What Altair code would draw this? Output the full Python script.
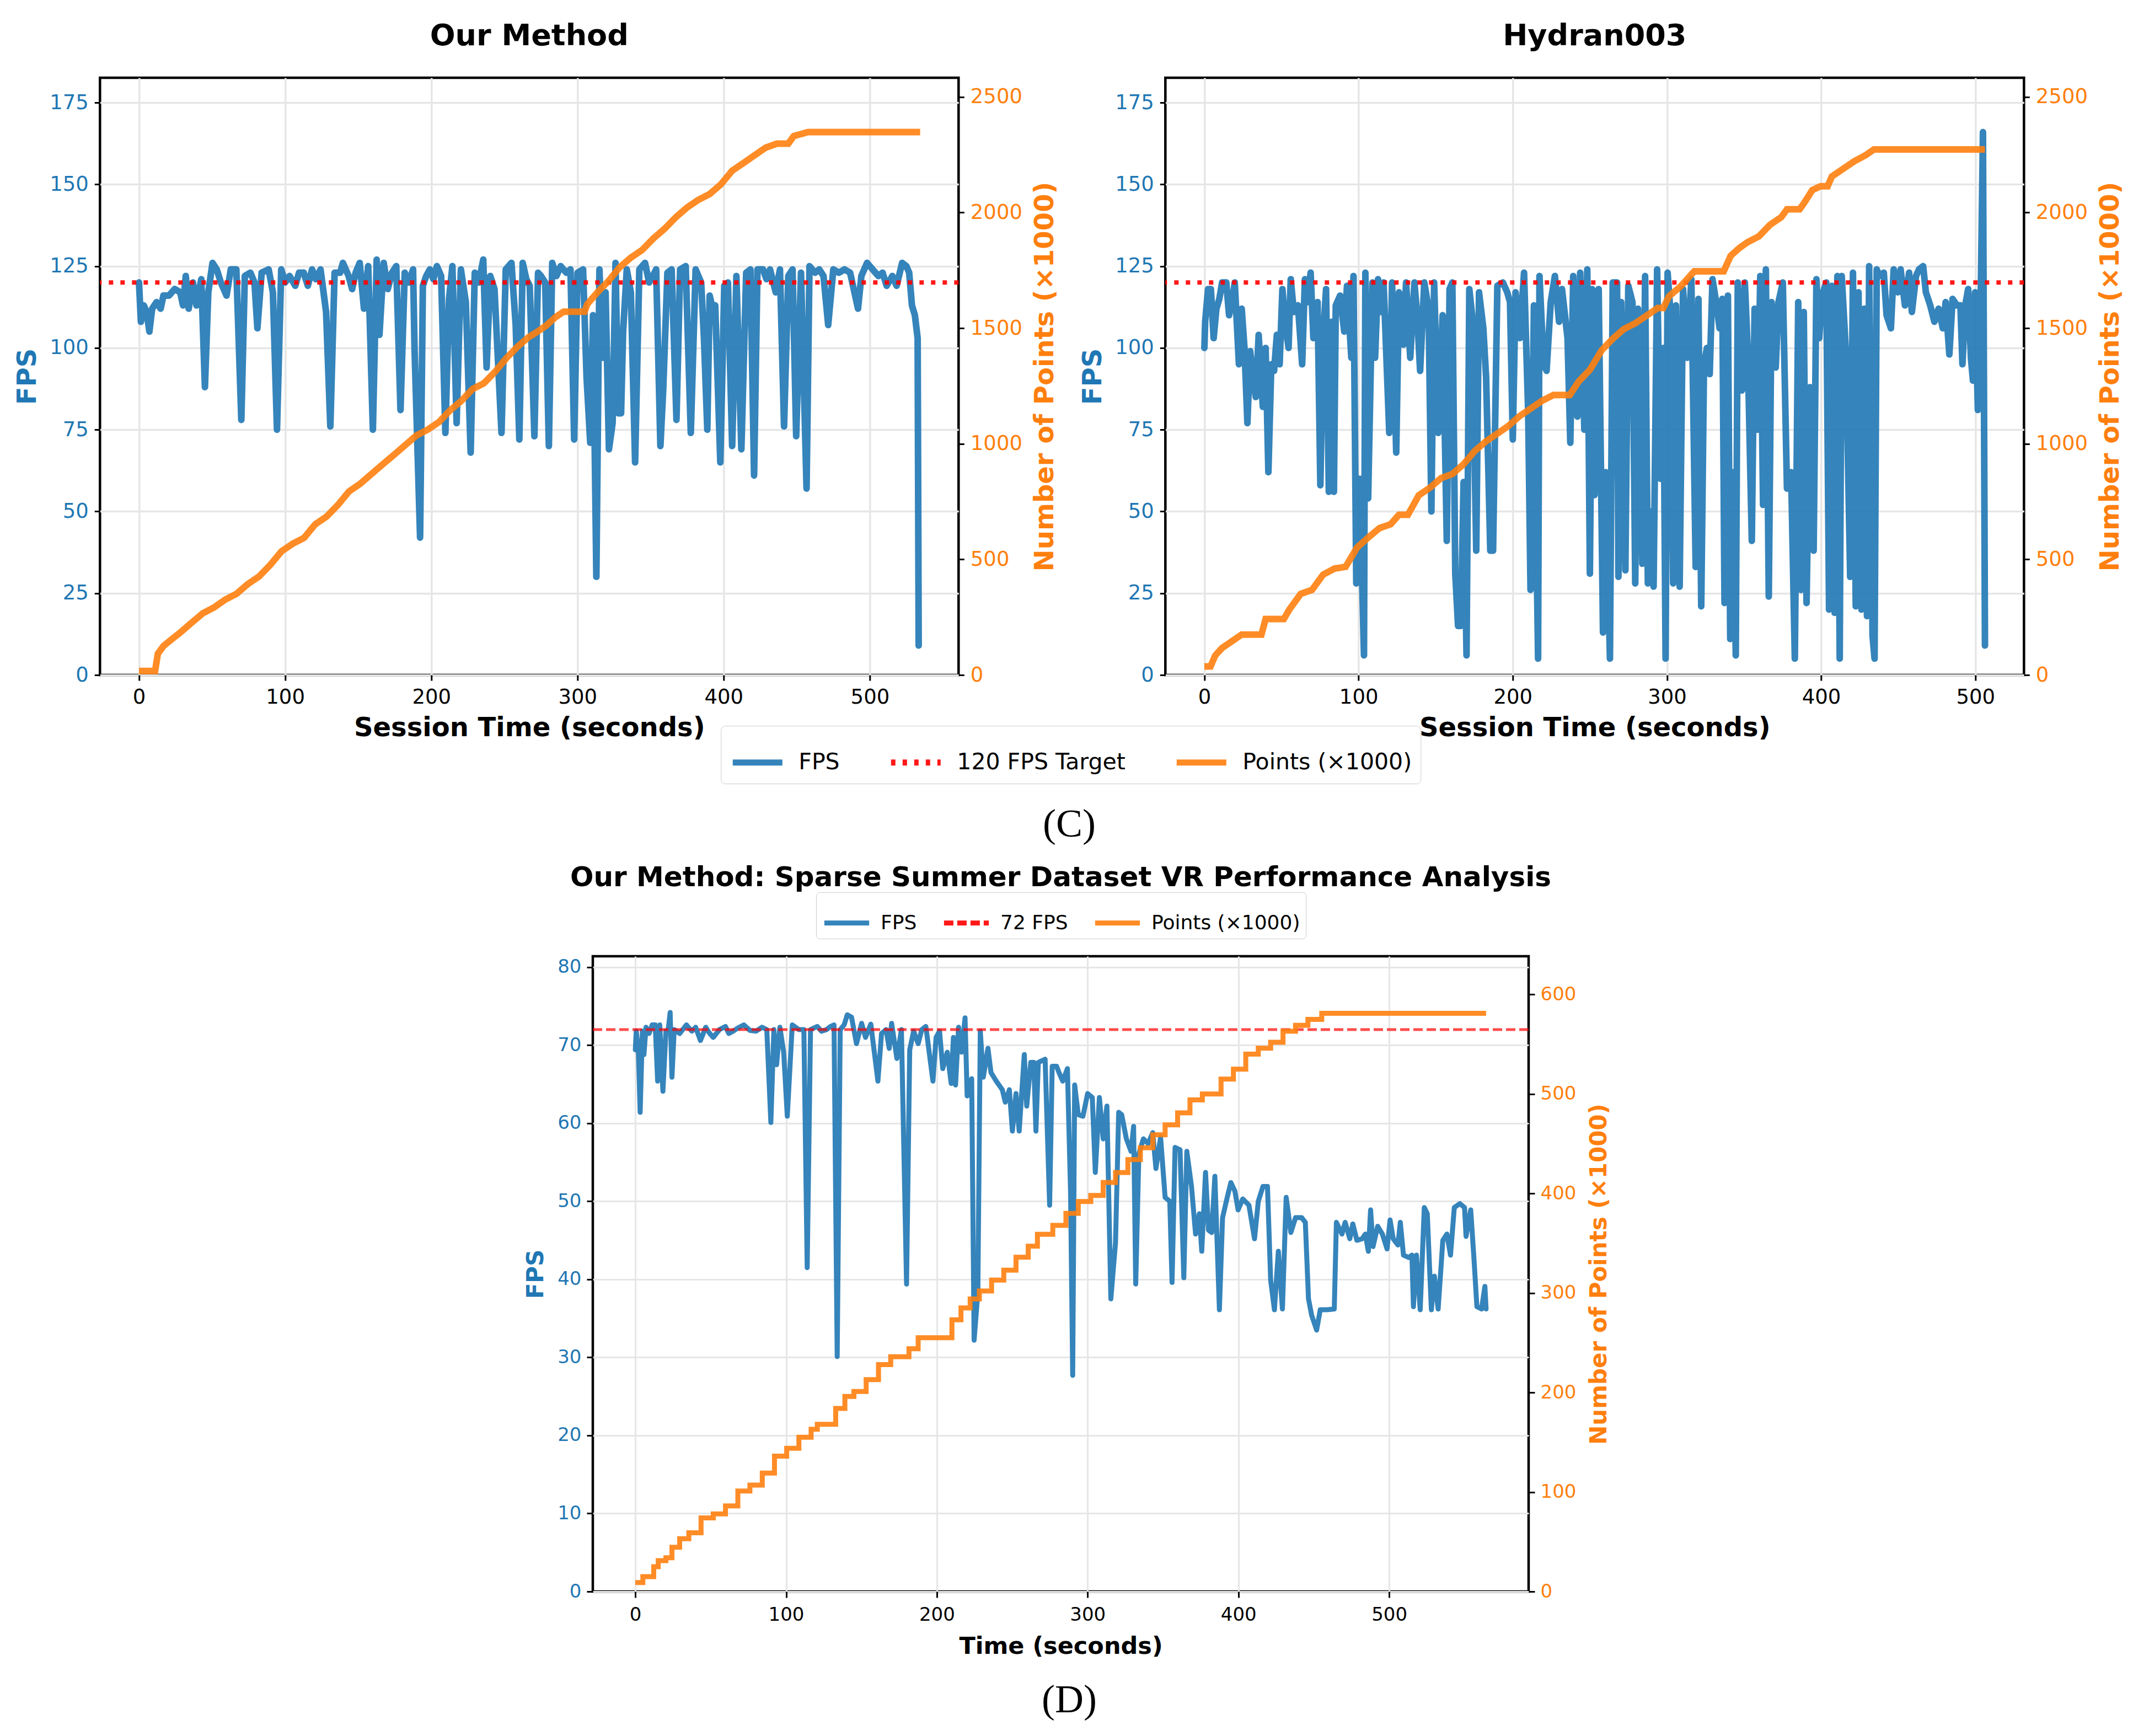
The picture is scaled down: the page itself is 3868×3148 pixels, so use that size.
import altair as alt
import pandas as pd

FONT = "DejaVu Sans"
SERIF = "Liberation Serif"
BLUE = "#1f77b4"
ORANGE = "#ff7f0e"
RED = "#ff0000"
GRID = "#e6e6e6"

# ---------------- data: panel (C) left "Our Method" ----------------
A_T = [0, 1.3, 3.3, 5.2, 7.1, 9, 12, 14.8, 16.7, 20.5, 24.4, 28.2, 30.1, 32, 34, 36.9, 39.3, 42.6, 45.1, 47.4,
       50.3, 53.2, 56, 59.9, 62.8, 66.6, 70, 72.4, 76.2, 79, 81, 83.9, 88.7, 91.6, 94.4, 97.3, 100, 103, 106.9,
       109.5, 112.7, 115.5, 118.4, 121, 124.2, 128, 130.9, 133.8, 137.6, 139.5, 143.4, 145.8, 148.2, 151, 153.9,
       156.8, 160, 162.6, 164.5, 167.4, 170.2, 173.1, 176, 178.9, 181.8, 184.6, 187.5, 188.5, 192.3, 194.2, 196.5,
       199, 201.4, 203.8, 206.7, 209.6, 212.1, 214.4, 217.3, 220.2, 223.6, 226.9, 229.7, 232.5, 235.5, 237.8,
       240.3, 243.2, 248, 250.9, 254.8, 257.7, 260.2, 262.5, 265, 267.3, 270.5, 273, 275, 277.9, 280.4, 282.7,
       285.6, 288.5, 292.3, 295.2, 297.7, 300, 303.8, 306.2, 308.7, 310.6, 312.9, 315, 317.3, 319.2, 321.5, 324,
       326, 327.9, 329.8, 331.2, 333.7, 336.5, 339.4, 342.3, 346.2, 349, 351.5, 353.8, 356.7, 358.6, 361.5,
       364.4, 367.7, 370.2, 374, 377.5, 380.8, 384.6, 386.5, 388.8, 390.4, 392.5, 394.2, 397.7, 400.4, 402.9,
       405.8, 408.7, 412.1, 415.4, 418.3, 420.8, 423.1, 426.9, 429.3, 431.7, 435.6, 438.5, 441.3, 444.2, 447.1,
       449.6, 452.9, 456.7, 458.7, 462.5, 465.4, 468.3, 471.5, 475, 478.8, 482.7, 486.5, 491.9, 494.2, 498.1,
       501.9, 505.8, 508.7, 511.5, 515.4, 518.3, 522.1, 525, 526.9, 528.8, 530.8, 532.7, 533.4]
A_FPS = [120, 108, 113, 111, 105, 112, 114, 112, 116, 116, 118, 117, 113, 122, 112, 120, 113, 121, 88, 117,
         126, 124, 120, 116, 124, 124, 78, 122, 123, 120, 106, 123, 124, 117, 75, 124, 120, 122, 119,
         123, 123, 119, 124, 121, 124, 111, 76, 123, 123, 126, 122, 118, 123, 126, 112,
         125, 75, 127, 104, 126, 118, 123, 125, 81, 123, 120, 124, 100, 42, 119, 122,
         124, 121, 125, 122, 74, 115, 125, 77, 124, 114, 68, 123, 120, 127, 94,
         122, 118, 74, 124, 126, 107, 72, 126, 121, 119, 73, 123, 122, 120, 70, 126,
         122, 125, 123, 124, 72, 123, 124, 91, 71, 110, 30, 124, 97, 117, 69, 77,
         126, 80, 80, 105, 124, 117, 65, 124, 126, 120, 122, 124, 70, 87, 123,
         124, 78, 124, 125, 74, 124, 120, 103, 75, 116, 112, 113, 65, 119, 120,
         70, 122, 69, 123, 124, 61, 124, 124, 121, 124, 117, 124, 76, 122, 124,
         73, 123, 57, 125, 123, 124, 122, 107, 124, 123, 124, 123, 112, 122, 126,
         124, 122, 123, 119, 122, 119, 126, 125, 123, 113, 110, 103, 9]
A_PT_T = [0, 11, 12.9, 16.7, 21.5, 28.3, 36, 43.7, 51.3, 59, 66.7, 74.4, 82.1, 89.8, 97.5, 105.2, 112.9, 120.6,
          128.3, 136, 143.7, 151.3, 159, 166.7, 174.4, 182.1, 189.8, 197.5, 205.2, 212.9, 220.6, 228.3, 236,
          243.7, 251.3, 259, 266.7, 271.2, 278.8, 284.6, 290.4, 304.8, 306.7, 313.5, 321.2, 328.8, 336.5, 344.2,
          351.9, 359.6, 367.3, 375, 382.7, 390.4, 398.1, 405.8, 413.5, 421.2, 428.8, 436.5, 444.2, 448, 457.7,
          534.4]
A_PTS = [17, 17, 92, 125, 150, 184, 226, 267, 292, 326, 351, 393, 426, 476, 535, 568, 593, 652,
         685, 735, 794, 827, 869, 911, 952, 994, 1036, 1061, 1094, 1145, 1186, 1237, 1262,
         1312, 1370, 1420, 1462, 1479, 1512, 1546, 1571, 1571, 1604, 1654, 1704, 1763, 1805, 1838,
         1888, 1930, 1980, 2022, 2055, 2080, 2122, 2181, 2214, 2248, 2281, 2298, 2298, 2331, 2348,
         2348]

# ---------------- data: panel (C) right "Hydran003" ----------------
B_T = [0, 0.5, 2.4, 4.2, 6, 7.8, 9.7, 11.5, 14.2, 16, 17.9, 19.7, 22.4, 24.2, 26, 27.9, 29.7, 31.5, 33.3, 35.2,
       37.9, 39.7, 41.5, 43.4, 45.2, 47, 48.8, 50.6, 52.5, 54.6, 56, 58, 60.7, 63.4, 65.2, 67, 68.9, 70.7, 73.4,
       75.2, 77, 78.9, 80.7, 82.5, 84, 85.2, 88, 90.7, 92.5, 95.3, 96.7, 98.5, 100.7, 103.5, 104.4, 106.2, 109,
       110.7, 112.6, 114.4, 116.2, 119.9, 121.7, 124.4, 126.2, 129, 130.8, 133.5, 136.2, 138, 139.9, 142.6,
       145.4, 147.2, 149, 151.7, 154.5, 157.2, 159, 160.8, 162.7, 164.5, 166.3, 168.1, 170, 171.8, 173.6,
       176.3, 178.1, 180.9, 182.7, 185.4, 187.2, 190, 193.6, 196.4, 198.2, 200, 201.8, 204.5, 207.3, 210,
       211.5, 213.7, 215.5, 216.4, 217.3, 220, 221.9, 224.6, 227.3, 230, 231.9, 235.5, 237.3, 239.2, 241.9,
       243.7, 246.4, 248.3, 250, 251.5, 253, 255.7, 258.5, 260.3, 263, 264.8, 267.6, 268.5, 270.3, 273, 274.9,
       277.6, 279.4, 281.2, 284, 285.8, 287.6, 289.4, 291.3, 293.6, 295.8, 297.6, 299.1, 300.4, 302.2, 304,
       305.8, 308.2, 310.4, 313.1, 315.8, 318.6, 320.4, 322.2, 324, 325.9, 327.7, 329.5, 332.2, 334.1, 335.9,
       337.3, 339.5, 341, 342.8, 344.6, 345.9, 348.6, 350.5, 352.3, 355, 356.8, 358.7, 360.5, 362.3, 364.1,
       366, 367.8, 370.5, 372.3, 375.1, 377.8, 380.5, 382.9, 385.1, 386.9, 388.7, 390.5, 392.7, 395.1, 396.9,
       398.7, 400.5, 403.3, 405.1, 406.9, 408.7, 410.5, 412, 413.3, 416, 418.8, 420.6, 422.4, 424.2, 426.1,
       427.9, 429.7, 431.1, 433.3, 434.6, 436, 437.9, 440.6, 442.4, 445.2, 447, 449.7, 451.5, 454.3, 457,
       458.8, 461.5, 463.4, 466.1, 467.9, 470.7, 473.4, 476.1, 478.9, 480.7, 483.1, 485.2, 488, 490.3, 491.6,
       493.4, 495.3, 497.1, 498.4, 499.8, 501.6, 503.5, 504.9, 506.2]
B_FPS = [100, 108, 118, 118, 103, 112, 115, 120, 120, 110, 114, 120, 95, 112, 100, 77, 99, 91, 85, 104,
         82, 100, 62, 95, 93, 104, 95, 118, 107, 100, 121, 111, 113, 95, 121, 114, 123, 103, 114,
         58, 103, 118, 56, 108, 56, 113, 116, 105, 119, 97, 122, 28, 60, 6, 123, 54, 120,
         97, 121, 111, 120, 74, 120, 68, 117, 101, 120, 97, 120, 110, 93, 120,
         112, 50, 120, 74, 110, 41, 118, 120, 31, 15, 15, 59, 6, 118, 110,
         38, 117, 106, 91, 38, 38, 119, 120, 117, 114, 72, 117, 103, 123, 80,
         26, 113, 35, 5, 122, 95, 93, 114, 122, 108, 118, 103, 71, 122, 79,
         123, 75, 124, 31, 118, 55, 118, 13, 62, 5, 120, 120, 30, 114, 32, 119,
         114, 28, 112, 34, 122, 28, 50, 27, 124, 60, 100, 5, 123, 111, 28,
         113, 27, 118, 97, 121, 33, 115, 21, 95, 100, 92, 121, 113, 106, 115,
         22, 116, 11, 62, 6, 120, 87, 120, 100, 41, 112, 75, 122, 52, 124,
         24, 114, 94, 114, 120, 57, 62, 5, 114, 26, 111, 22, 88, 38, 121,
         103, 116, 120, 20, 119, 19, 122, 5, 122, 99, 30, 123, 21, 117, 20,
         112, 18, 125, 12, 5, 124, 122, 123, 110, 106, 124, 117, 124, 113, 123,
         111, 122, 124, 125, 117, 113, 108, 112, 106, 114, 98, 115, 113, 113, 95,
         113, 118, 97, 90, 117, 81, 117, 166, 9]
B_PT_T = [0, 4, 7, 11.5, 17, 24.2, 37, 39.7, 51.5, 55.2, 62.5, 69.8, 77, 84.3, 91.6, 99, 106, 113.5, 120.8,
          126.2, 132, 139, 146.3, 153.6, 160.8, 168, 175.4, 182.7, 190, 197.3, 204.5, 211.8, 219, 226.4, 237,
          242.8, 250, 257.6, 264.8, 272, 279.4, 286.7, 294, 297.6, 301.3, 308.6, 317.7, 336.8, 341.3, 346.8,
          352.3, 359.6, 366.8, 374.1, 377.8, 386, 388.7, 394.2, 399.6, 404.2, 406.9, 414.2, 421.5, 428.8,
          434.2, 506.2]
B_PTS = [37, 37, 84, 117, 142, 175, 175, 242, 242, 284, 351, 368, 434, 460, 468, 551, 593, 635, 652,
         693, 693, 777, 810, 852, 869, 911, 969, 1011, 1044, 1078, 1120, 1153, 1186, 1211, 1211,
         1270, 1320, 1404, 1454, 1496, 1521, 1554, 1587, 1587, 1638, 1679, 1746, 1746, 1813, 1846,
         1872, 1897, 1947, 1980, 2014, 2014, 2039, 2097, 2114, 2114, 2156, 2189, 2222, 2248,
         2273, 2273]

# ---------------- data: panel (D) "Sparse Summer Dataset" ----------------
D_T = [0, 0.6, 2, 3.2, 4.7, 5.7, 7.1, 9.1, 11.2, 13.2, 14.8, 16.2, 18.3, 20.3, 21.7, 23.1, 24.3, 25.8, 29.4,
       33.9, 37.5, 40, 43.2, 46.7, 49, 51.7, 55.8, 59.8, 62, 64.9, 68, 72, 76, 80.1, 84, 87.2, 89.9, 91.9,
       93.7, 95.9, 98.4, 100.8, 104.1, 108.5, 111.8, 114, 116.2, 120.7, 123.5, 126.8, 129.5, 131.8, 133.9,
       135.9, 138.5, 140.6, 143.4, 146.7, 150.1, 152.7, 156.2, 160.9, 163.3, 166.3, 168.4, 170, 173.5, 176.5,
       179.9, 182, 184.6, 187.6, 190, 192.7, 197.4, 199.5, 201.8, 203.9, 206.9, 209.5, 211, 212.4, 214.4,
       216.4, 218.7, 220.1, 223.1, 224.7, 227.2, 228.8, 230.8, 233.9, 235.9, 239.4, 243.4, 245.4, 248.1,
       250.1, 252.5, 254.6, 258, 259.6, 262.3, 264.3, 265.7, 267.3, 271.8, 274.8, 276.5, 279.4, 281, 283.5,
       286.6, 288.7, 290.1, 291.4, 293.8, 296.9, 300, 303.1, 305.1, 307.8, 310.3, 312.8, 315.4, 318.5, 320.6,
       322.6, 325.7, 328.8, 330.5, 331.9, 334, 337, 340.1, 343.2, 345.3, 348.4, 351.4, 354.5, 356, 358,
       361.3, 363.8, 365.8, 368.9, 371.6, 374.1, 375.7, 378.2, 380.2, 382.3, 384.4, 387.4, 389.5, 392.6, 395,
       397.7, 399.8, 402.9, 407, 410.7, 413.2, 416.3, 419.3, 421.4, 423.9, 426.5, 429.2, 431.7, 434.8, 437.9,
       442, 444.4, 446.5, 448.6, 451.9, 454.3, 458.4, 463.6, 465, 468.7, 470.8, 473.9, 475.9, 478.6, 482.1,
       484.2, 486.2, 487.7, 489.3, 492.4, 495.5, 498.6, 500.6, 502.7, 505.8, 507.4, 509.5, 513, 515.1, 516.1,
       518.1, 520.6, 523.3, 525.3, 528, 530, 532.5, 535.6, 538.3, 540.7, 543.2, 546.9, 550, 551, 554.1, 556.2,
       558.2, 561.3, 563.5, 564.3]
D_FPS = [69.4, 71.8, 69.4, 61.4, 71.8, 68.8, 72.3, 71.5, 72.6, 72.6, 65.4, 72.6, 64.1, 71.8, 71.8, 74.2, 65.9, 72, 71.5,
         72.6, 71.8, 72.3, 70.6, 72.3, 71.6, 71, 72, 72.4, 71.5, 71.8, 72.2, 72.6, 71.9, 71.8, 72.3, 72, 60.1, 72,
         67.5, 72.3, 69.1, 60.9, 72.6, 72, 72, 41.5, 72, 72.4, 71.8, 72, 72.4, 72.6, 30.1,
         72, 72.6, 73.9, 73.6, 70.2, 72.8, 71, 72.7, 65.4, 71.5, 72, 69.6, 72.8, 68.3, 72,
         39.4, 69.4, 71.8, 70.2, 72, 72.4, 65.4, 71, 71.8, 67, 69.1, 65.1, 71, 64.9, 72.3,
         69.1, 73.5, 63.5, 65.7, 32.2, 38.3, 71.8, 65.9, 69.6, 66.5, 65.4, 64.3, 62.7, 64.3,
         59, 63.8, 59, 68.8, 62.2, 67.8, 67.8, 59, 67.8, 68.2, 49.5, 67.3, 67.3, 66.5, 65.4,
         67, 51, 27.7, 64.9, 61.1, 60.9, 63.8, 63.3, 53.7, 63.3, 58, 62.2, 37.5, 44.7, 61.4,
         61.1, 58, 56.4, 59.6, 39.4, 56.1, 58, 57.4, 58.8, 54.2, 58.2, 50.5, 50, 39.6, 56.9,
         56.6, 40.2, 56.4, 51.9, 45.8, 48.4, 43.6, 53.7, 46.3, 46, 53.2, 36.1, 47.9, 50.5, 52.4,
         51.3, 48.9, 50.3, 49.5, 45.2, 50, 51.9, 51.9, 39.9, 36.1, 43.6, 36.2, 50.5, 46, 47.9,
         47.9, 47.3, 37.5, 35.4, 33.5, 36.1, 36.1, 36.2, 47.3, 45.8, 47.3, 45.2, 47.1, 45, 45.2,
         45.8, 43.6, 48.9, 44.2, 46.8, 45.8, 43.9, 47.6, 45.2, 44.4, 47.3, 43.1, 42.8, 43.1, 36.5,
         43.1, 36.1, 49.2, 48.4, 36.1, 40.4, 36.2, 45, 45.8, 43.1, 49.2, 49.7, 49.2, 45.5, 48.9, 42.8,
         36.5, 36.2, 39.1, 36.2]
D_PT_T = [0, 4, 5, 10, 12.2, 15.2, 20.3, 24.3, 29.4, 35.5, 43.6, 51.7, 59.8, 68, 76, 84.2, 92.3, 100.4, 108.5,
          116.6, 120.7, 128.8, 132.9, 139, 145, 153.1, 161.3, 169.4, 177.5, 181.5, 187.6, 205.9, 210, 216,
          222.1, 228.2, 236.3, 244.4, 252.5, 260.6, 266.7, 271.8, 276.9, 285.6, 293.8, 302.1, 310.3, 318.5,
          326.7, 335, 343.2, 351.4, 359.7, 367.9, 376.1, 384.4, 388.5, 396.7, 404.9, 413.2, 421.4, 429.6,
          437.9, 446.1, 455.3, 564.3]
D_PTS = [9, 9, 15, 15, 25, 31, 34, 44.5, 53, 59, 74, 78, 86, 101, 107, 119, 136, 144, 155,
         163, 168, 168, 184, 196, 201, 213, 228, 236, 236, 244, 255, 255, 273, 285,
         294, 302, 313, 323, 336, 347, 359, 359, 368, 380, 392, 398, 411, 421,
         434, 446, 459, 469, 481, 494, 500, 500, 515, 525, 540, 546, 552, 563,
         569, 575, 581, 581]

TOP_SERIES = ["FPS", "120 FPS Target", "Points (\u00d71000)"]
BOT_SERIES = ["FPS", "72 FPS", "Points (\u00d71000)"]
X_TICKS = [0, 100, 200, 300, 400, 500]
TOP_FPS_TICKS = [0, 25, 50, 75, 100, 125, 150, 175]
TOP_PTS_TICKS = [0, 500, 1000, 1500, 2000, 2500]
BOT_FPS_TICKS = [0, 10, 20, 30, 40, 50, 60, 70, 80]
BOT_PTS_TICKS = [0, 100, 200, 300, 400, 500, 600]

TOP_STY = dict(tick=37, xt=48, yt=48, ticksize=10, tickw=3, lpx=12, lpy=11, tpx=14, tpl=15, tpr=18,
               lw=12, tw=8, tgt_op=0.9, title=54, toff=48, gridw=3.5, interp="linear")
BOT_STY = dict(tick=34, xt=43, yt=42, ticksize=11, tickw=3, lpx=14, lpy=10, tpx=19, tpl=17, tpr=22,
               lw=9, tw=5, tgt_op=0.7, title=50, toff=1, gridw=3, interp="step-after")


def panel(T, F, PT, P, series, target, xdom, fdom, pdom, fticks, pticks, xtitle, title, sty,
          legend, dash_range, w, h):
    fps_df = pd.DataFrame({"t": T, "v": F, "s": series[0]})
    tgt_df = pd.DataFrame({"v": [target], "s": [series[1]]})
    pts_df = pd.DataFrame({"t": PT, "v": P, "s": series[2]})
    common = dict(labelFont=FONT, titleFont=FONT, labelFontSize=sty["tick"], titleFontWeight="bold",
                  tickColor="black", tickWidth=sty["tickw"], tickSize=sty["ticksize"], domain=False,
                  labelFlush=False, labelOverlap=False, format="d")
    xaxis = alt.Axis(values=X_TICKS, title=xtitle, titleFontSize=sty["xt"], labelColor="black",
                     titleColor="black", labelPadding=sty["lpx"], titlePadding=sty["tpx"], grid=True,
                     gridColor=GRID, gridWidth=sty["gridw"], **common)
    laxis = alt.Axis(values=fticks, orient="left", title="FPS", titleFontSize=sty["yt"], labelColor=BLUE,
                     titleColor=BLUE, labelPadding=sty["lpy"], titlePadding=sty["tpl"], grid=True,
                     gridColor=GRID, gridWidth=sty["gridw"], **common)
    raxis = alt.Axis(values=pticks, orient="right", title="Number of Points (\u00d71000)",
                     titleFontSize=sty["yt"], labelColor=ORANGE, titleColor=ORANGE,
                     labelPadding=sty["lpy"], titlePadding=sty["tpr"], titleAngle=270,
                     titleBaseline="top", grid=False, **common)
    x = alt.X("t:Q", scale=alt.Scale(domain=xdom, nice=False, zero=False), axis=xaxis)
    yf = alt.Y("v:Q", scale=alt.Scale(domain=fdom, nice=False, zero=False), axis=laxis)
    yp = alt.Y("v:Q", scale=alt.Scale(domain=pdom, nice=False, zero=False), axis=raxis)
    color = alt.Color("s:N", scale=alt.Scale(domain=series, range=[BLUE, RED, ORANGE]), legend=legend)
    dash = alt.StrokeDash("s:N", scale=alt.Scale(domain=series, range=dash_range), legend=legend)

    fps_line = alt.Chart(fps_df).mark_line(strokeWidth=sty["lw"], opacity=0.9, strokeJoin="round",
                                           strokeCap="round").encode(x=x, y=yf, color=color, strokeDash=dash)
    rule = alt.Chart(tgt_df).mark_rule(strokeWidth=sty["tw"], opacity=sty["tgt_op"]).encode(
        y=yf, color=color, strokeDash=dash)
    pts_line = alt.Chart(pts_df).mark_line(interpolate=sty["interp"], strokeWidth=sty["lw"], opacity=0.9,
                                           strokeJoin="miter").encode(x=x, y=yp, color=color, strokeDash=dash)
    return alt.layer(alt.layer(fps_line, rule), pts_line).resolve_scale(y="independent").properties(
        width=w, height=h,
        title=alt.TitleParams(text=title, font=FONT, fontSize=sty["title"], fontWeight="bold", color="black",
                              anchor="middle", frame="group", offset=sty["toff"]))


top_legend = alt.Legend(orient="none", legendX=1126, legendY=1175, direction="horizontal", title=None,
                        symbolType="stroke", symbolSize=8100, symbolStrokeWidth=11, labelFontSize=41,
                        labelFont=FONT, labelColor="black", labelOffset=24, columnPadding=70, padding=16,
                        strokeColor="#cccccc", fillColor="white", cornerRadius=8, labelLimit=2000)
bot_legend = alt.Legend(orient="none", legendX=405, legendY=-116, direction="horizontal", title=None,
                        symbolType="stroke", symbolSize=6600, symbolStrokeWidth=9, labelFontSize=36,
                        labelFont=FONT, labelColor="black", labelOffset=16, columnPadding=30, padding=10,
                        strokeColor="#cccccc", fillColor="white", cornerRadius=6, labelLimit=2000)

TOP_DASH = [[1, 0], [8, 13], [1, 0]]
BOT_DASH = [[1, 0], [17, 7], [1, 0]]

left = panel(A_T, A_FPS, A_PT_T, A_PTS, TOP_SERIES, 120, [-26.7, 560.7], [0, 182.6], [0, 2583],
             TOP_FPS_TICKS, TOP_PTS_TICKS, "Session Time (seconds)", "Our Method", TOP_STY,
             top_legend, TOP_DASH, 1557, 1083)
right = panel(B_T, B_FPS, B_PT_T, B_PTS, TOP_SERIES, 120, [-25.3, 531.5], [0, 182.6], [0, 2583],
              TOP_FPS_TICKS, TOP_PTS_TICKS, "Session Time (seconds)", "Hydran003", TOP_STY,
              None, TOP_DASH, 1557, 1083)
bottom = panel(D_T, D_FPS, D_PT_T, D_PTS, BOT_SERIES, 72, [-28.2, 592.5], [0, 81.4], [0, 638.4],
               BOT_FPS_TICKS, BOT_PTS_TICKS, "Time (seconds)",
               "Our Method: Sparse Summer Dataset VR Performance Analysis", BOT_STY,
               bot_legend, BOT_DASH, 1697, 1152)

# empty, invisible layout spacer that nudges the centred bottom panel to the left
spacer = alt.Chart(pd.DataFrame({"a": [0]})).mark_point(opacity=0).encode(
    x=alt.value(0), y=alt.value(0)).properties(
    width=33, height=1, view=alt.ViewBackground(stroke="transparent", strokeWidth=0))
bottom_row = alt.hconcat(bottom, spacer, spacing=0).resolve_scale(
    color="independent", strokeDash="independent")

top = alt.hconcat(left, right, spacing=375, bounds="flush").resolve_scale(
    color="independent", strokeDash="independent").properties(
    title=alt.TitleParams(text="(C)", orient="bottom", anchor="middle", frame="bounds", font=SERIF,
                          fontSize=72, fontWeight="normal", color="black", offset=36))

chart = alt.vconcat(top, bottom_row, spacing=33, center=True).resolve_scale(
    color="independent", strokeDash="independent").properties(
    title=alt.TitleParams(text="(D)", orient="bottom", anchor="middle", frame="bounds", font=SERIF,
                          fontSize=72, fontWeight="normal", color="black", offset=39),
    padding={"left": 16, "top": 28, "right": 5, "bottom": 5},
    background="white",
).configure_view(stroke="black", strokeWidth=4.5)

chart.save("out.html", embed_options={"renderer": "svg", "actions": False})
